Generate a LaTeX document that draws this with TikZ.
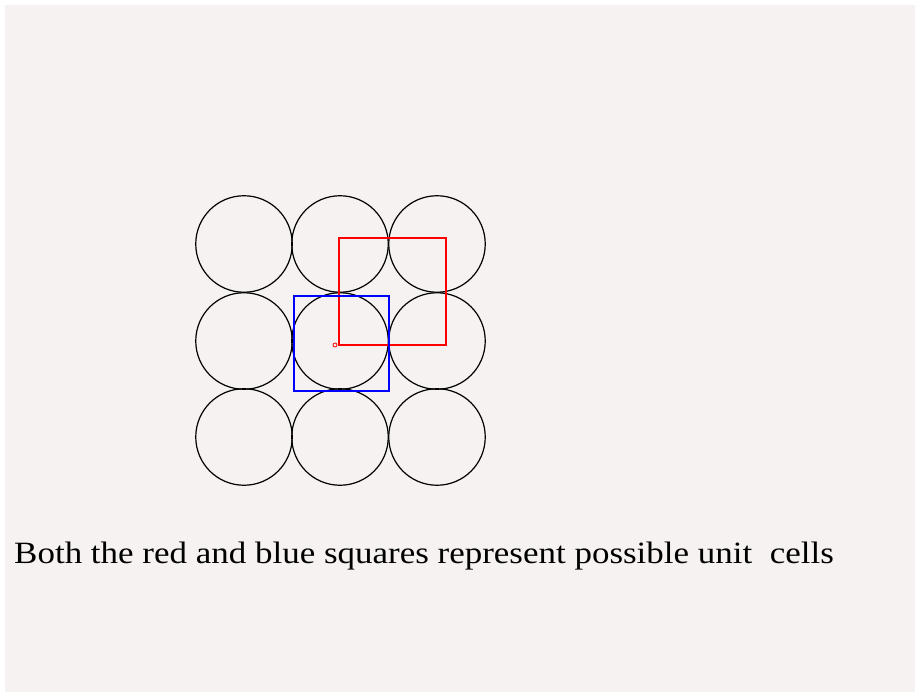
\documentclass[tikz,border=0pt]{standalone}
\usepackage{fontspec}
\setmainfont{Liberation Serif}
\usepackage{tikz}
\usetikzlibrary{positioning}

\definecolor{paper}{RGB}{245,242,241}
\tikzset{
  atom/.style={draw,circle,line width=1.2pt,minimum size=96.5pt,inner sep=0pt},
  redcell/.style={draw=red,line width=1.3pt},
  bluecell/.style={draw=blue,line width=1.3pt}
}

\begin{document}
\begin{tikzpicture}[x=1pt,y=-1pt]
  \useasboundingbox (0,0) rectangle (915,692);
  \fill[paper] (5,5) rectangle (915,692);
  % square lattice of atoms
  \foreach \r/\y in {1/244,2/341,3/437}{
    \foreach \c/\x in {1/244,2/340,3/437}{
      \node[atom] (a\r\c) at (\x,\y) {};
    }
  }
  % the two cells
  \coordinate (redll) at (339,345);
  \coordinate (redur) at (446,238);
  \draw[redcell] (redll) rectangle (redur);
  \coordinate (bluell) at (294,391);
  \coordinate (blueur) at (389,296);
  \draw[bluecell] (bluell) rectangle (blueur);
  \draw[red,line width=0.8pt] (335,345) circle (2pt);
  \node[anchor=base west,inner sep=0pt,xscale=1.128,font=\fontsize{31}{31}\selectfont] (caption) at (14,563)
    {Both the red and blue squares represent possible unit\ \ cells};
\end{tikzpicture}
\end{document}
